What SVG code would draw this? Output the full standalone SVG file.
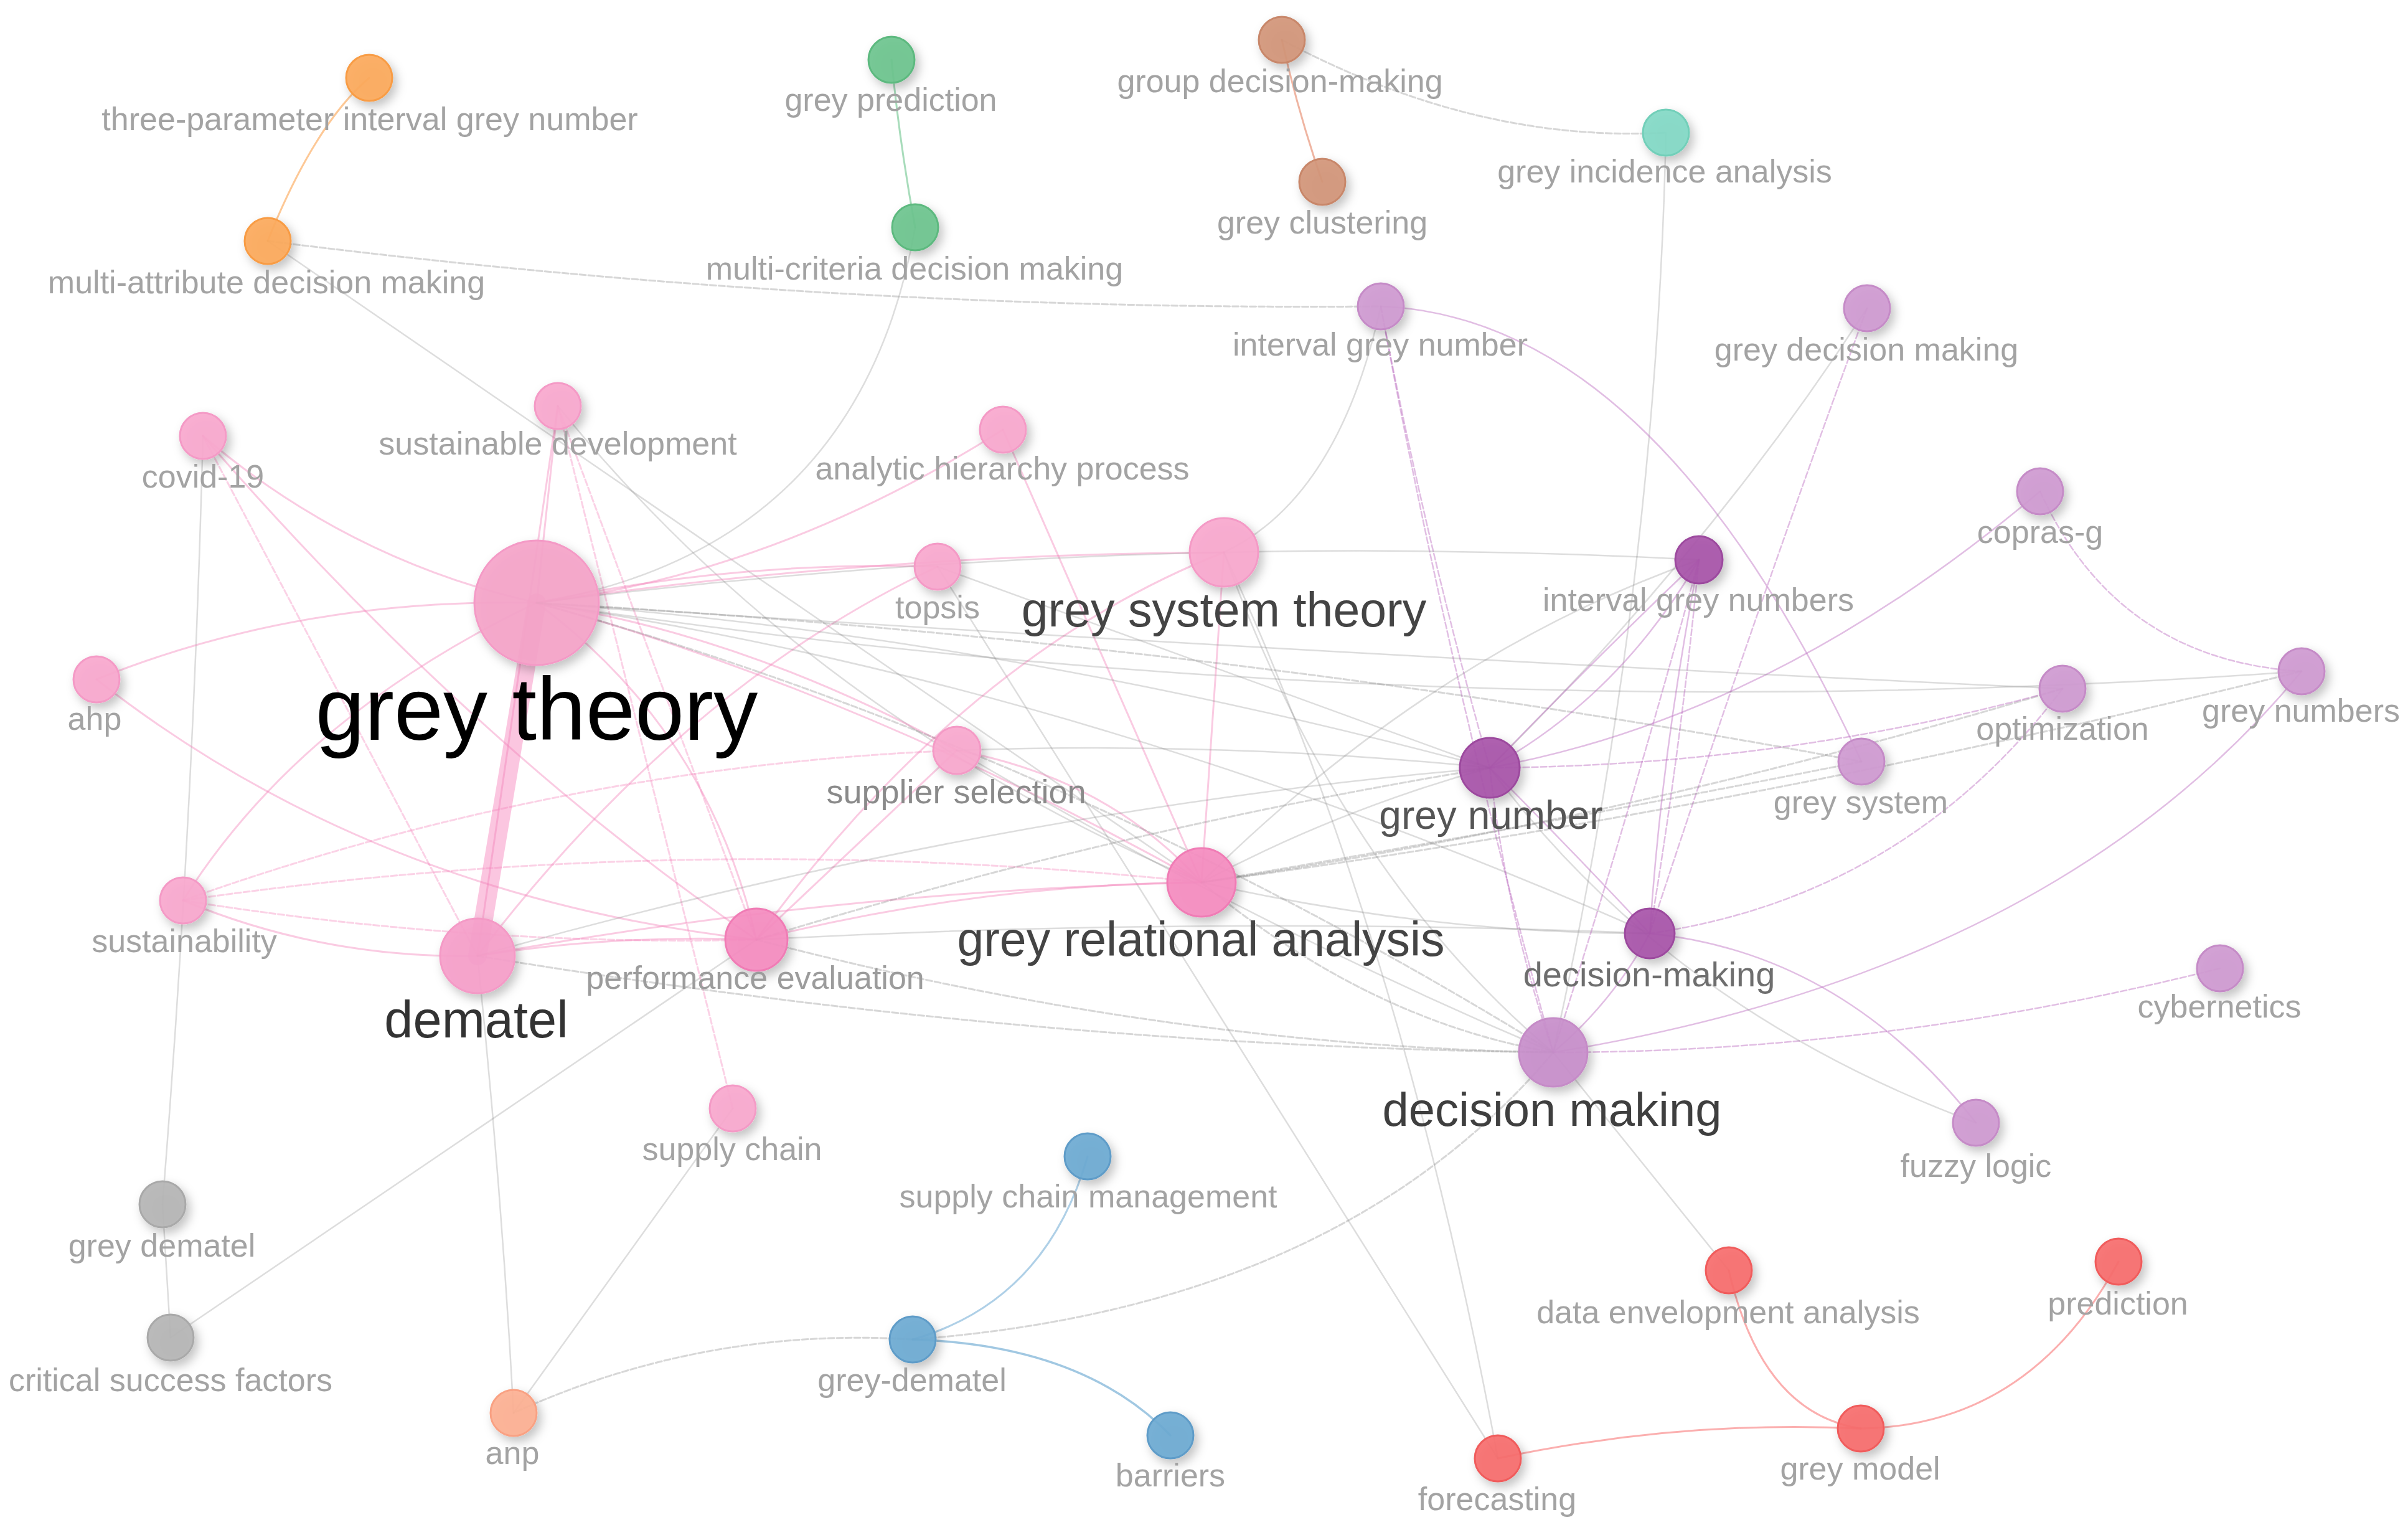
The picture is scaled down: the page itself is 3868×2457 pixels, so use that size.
<svg xmlns="http://www.w3.org/2000/svg" width="3868" height="2457" viewBox="0 0 3868 2457">
<style>
.e{fill:none;stroke-linecap:round}
.pk{stroke:#f37db7;stroke-opacity:.4;stroke-width:3}
.pkd{stroke:#f37db7;stroke-opacity:.35;stroke-width:3;stroke-dasharray:10 4}
.gy{stroke:#7a7a7a;stroke-opacity:.26;stroke-width:2.5}
.gyd{stroke:#7a7a7a;stroke-opacity:.3;stroke-width:3;stroke-dasharray:10 4}
.pu{stroke:#bd6fc0;stroke-opacity:.45;stroke-width:2.5}
.pud{stroke:#bd6fc0;stroke-opacity:.45;stroke-width:2.5;stroke-dasharray:10 4}
.n circle{filter:url(#sh);stroke-width:3;fill-opacity:.92}
.n text{font-family:"Liberation Sans",Arial,sans-serif;text-anchor:middle;font-size:52px;fill:#a3a3a3}
.or{fill:#fca95c;stroke:#f89c45}
.gr{fill:#6ec48e;stroke:#5db97f}
.br{fill:#d3967a;stroke:#c8876a}
.te{fill:#82d9c5;stroke:#72cfb9}
.pl{fill:#f8a8ce;stroke:#f49ac6}
.ps{fill:#f58cc0;stroke:#f07bb5}
.ul{fill:#cf9ad1;stroke:#c58bc7}
.ud{fill:#a854a9;stroke:#9c4a9e}
.gg{fill:#b5b5b5;stroke:#a9a9a9}
.sa{fill:#fdb093;stroke:#f9a183}
.bl{fill:#6eaad3;stroke:#5e9cc8}
.rd{fill:#f76d6d;stroke:#f05c5c}
</style>
<defs>
<filter id="sh" x="-50%" y="-50%" width="200%" height="200%">
<feDropShadow dx="6" dy="8" stdDeviation="8" flood-color="#000" flood-opacity="0.25"/>
</filter>
</defs>
<rect width="3868" height="2457" fill="#fff"/>
<g id="connectors">
<path class="e" stroke="#fcb06a" stroke-opacity=".7" stroke-width="3" d="M593,125 Q505,200 430,387"/>
<path class="e" stroke="#6ec48e" stroke-opacity=".6" stroke-width="3" d="M1432,96 Q1445,230 1470,365"/>
<path class="e" stroke="#e8957a" stroke-opacity=".7" stroke-width="3" d="M2059,64 Q2085,180 2124,292"/>
<path class="e gyd" d="M2059,64 Q2370,230 2676,213"/>
<path class="e gy" d="M2676,213 Q2660,950 2495,1690"/>
<path class="e gyd" d="M430,387 Q1324,500 2218,492"/>
<path class="e gy" d="M430,387 Q1150,880 1930,1417"/>
<path class="e gy" d="M1470,365 Q1380,880 862,968"/>
<path class="e pu" d="M2218,492 Q2660,510 2990,1223"/>
<path class="e pud" d="M2218,492 Q2290,870 2393,1233"/>
<path class="e pud" d="M2218,492 Q2330,1100 2495,1690"/>
<path class="e gy" d="M2218,492 Q2150,800 1966,887"/>
<path class="e gy" d="M2999,495 Q2750,880 2393,1233"/>
<path class="e pud" d="M2999,495 Q2820,980 2650,1499"/>
<path class="e pu" d="M3277,789 Q2850,1150 2393,1233"/>
<path class="e pud" d="M3277,789 Q3400,1060 3697,1078"/>
<path class="e gy" d="M862,968 Q2280,1180 3697,1078"/>
<path class="e gyd" d="M3697,1078 Q2800,1300 1930,1417"/>
<path class="e gyd" d="M3313,1106 Q2600,1320 1930,1417"/>
<path class="e pu" d="M3697,1078 Q3300,1560 2495,1690"/>
<path class="e pud" d="M3313,1106 Q3060,1440 2650,1499"/>
<path class="e pud" d="M3313,1106 Q2870,1230 2393,1233"/>
<path class="e gyd" d="M2990,1223 Q2450,1330 1930,1417"/>
<path class="e pud" d="M3566,1555 Q3030,1690 2495,1690"/>
<path class="e gy" d="M2393,1233 Q2680,1620 3174,1803"/>
<path class="e pu" d="M2650,1499 Q2960,1530 3174,1803"/>
<path class="e gy" d="M2777,2040 L2495,1690"/>
<path class="e" stroke="#f76d6d" stroke-opacity=".55" stroke-width="3" d="M2777,2040 Q2830,2270 2989,2294"/>
<path class="e" stroke="#f76d6d" stroke-opacity=".55" stroke-width="3" d="M3403,2026 Q3260,2290 2989,2294"/>
<path class="e" stroke="#f76d6d" stroke-opacity=".55" stroke-width="3" d="M2406,2342 Q2700,2280 2989,2294"/>
<path class="e" stroke="#6eaad3" stroke-opacity=".55" stroke-width="3" d="M1466,2151 Q1680,2090 1747,1857"/>
<path class="e" stroke="#6eaad3" stroke-opacity=".65" stroke-width="3.5" d="M1466,2151 Q1740,2160 1880,2305"/>
<path class="e gyd" d="M1466,2151 Q1130,2130 825,2269"/>
<path class="e gyd" d="M1466,2151 Q2150,2100 2495,1690"/>
<path class="e gy" d="M825,2269 Q805,1900 767,1535"/>
<path class="e gy" d="M825,2269 L1177,1780"/>
<path class="e gy" d="M274,2148 L261,1934"/>
<path class="e gy" d="M274,2148 L1215,1509"/>
<path class="e gy" d="M261,1934 Q310,1320 326,700"/>
<path class="e pkd" d="M1177,1780 L896,652"/>
<path class="e gy" d="M2406,2342 Q2250,1500 1966,887"/>
<path class="e gy" d="M2406,2342 L1506,910"/>
<path class="e" stroke="#fabcdb" stroke-opacity=".85" stroke-width="30" d="M862,968 L767,1535"/>
<path class="e pk" d="M155,1091 Q480,960 862,968"/>
<path class="e pk" d="M155,1091 Q600,1440 1215,1509"/>
<path class="e pk" d="M326,700 Q560,900 862,968"/>
<path class="e pkd" d="M326,700 L767,1535"/>
<path class="e pk" d="M326,700 Q760,1200 1215,1509"/>
<path class="e pk" d="M896,652 L862,968"/>
<path class="e pk" d="M896,652 L767,1535"/>
<path class="e pkd" d="M896,652 L1215,1509"/>
<path class="e gy" d="M896,652 Q1300,1150 1930,1417"/>
<path class="e pk" d="M1611,690 Q1250,920 862,968"/>
<path class="e pk" d="M1611,690 L1930,1417"/>
<path class="e pk" d="M862,968 Q1180,900 1506,910"/>
<path class="e pk" d="M862,968 Q1400,890 1966,887"/>
<path class="e pk" stroke-width="5" d="M862,968 Q1200,1020 1537,1205"/>
<path class="e pk" stroke-width="4" d="M862,968 Q1380,1110 1930,1417"/>
<path class="e pk" d="M862,968 Q1138,1172 1215,1509"/>
<path class="e pk" d="M294,1446 Q480,1150 862,968"/>
<path class="e pk" d="M294,1446 Q520,1540 767,1535"/>
<path class="e pkd" d="M294,1446 Q760,1520 1215,1509"/>
<path class="e pkd" d="M294,1446 Q1100,1330 1930,1417"/>
<path class="e pkd" d="M294,1446 Q900,1230 1537,1205"/>
<path class="e pk" stroke-width="4" d="M767,1535 Q990,1500 1215,1509"/>
<path class="e pk" d="M767,1535 Q1350,1430 1930,1417"/>
<path class="e pk" stroke-width="4" d="M1215,1509 Q1570,1420 1930,1417"/>
<path class="e pk" d="M1215,1509 L1537,1205"/>
<path class="e pk" d="M1966,887 L1930,1417"/>
<path class="e pk" d="M1966,887 Q1550,1050 1215,1509"/>
<path class="e pk" d="M1537,1205 Q1780,1250 1930,1417"/>
<path class="e pk" d="M1506,910 Q1100,1100 767,1535"/>
<path class="e gy" d="M862,968 Q1600,1020 2393,1233"/>
<path class="e gy" d="M862,968 Q1750,1100 2650,1499"/>
<path class="e gyd" d="M862,968 Q1700,1200 2495,1690"/>
<path class="e gy" d="M862,968 Q1800,850 2729,899"/>
<path class="e gyd" d="M862,968 Q1950,1030 2990,1223"/>
<path class="e gy" d="M862,968 Q2100,1050 3313,1106"/>
<path class="e gy" d="M1506,910 L2393,1233"/>
<path class="e gy" d="M1966,887 Q2150,1400 2495,1690"/>
<path class="e gy" d="M1537,1205 Q1970,1190 2393,1233"/>
<path class="e gy" d="M1537,1205 Q2000,1480 2495,1690"/>
<path class="e gy" d="M767,1535 Q1600,1300 2393,1233"/>
<path class="e gyd" d="M767,1535 Q1650,1680 2495,1690"/>
<path class="e gyd" d="M1215,1509 Q1800,1330 2393,1233"/>
<path class="e gyd" d="M1215,1509 Q1870,1680 2495,1690"/>
<path class="e gy" d="M1215,1509 Q1950,1470 2650,1499"/>
<path class="e gy" d="M1930,1417 Q2150,1300 2393,1233"/>
<path class="e gyd" d="M1930,1417 Q2200,1640 2495,1690"/>
<path class="e gy" d="M1930,1417 Q2300,1050 2729,899"/>
<path class="e gy" d="M1930,1417 Q2300,1500 2650,1499"/>
<path class="e pu" d="M2393,1233 Q2600,1120 2729,899"/>
<path class="e pu" d="M2393,1233 Q2560,1060 2729,899"/>
<path class="e pud" d="M2729,899 Q2700,1200 2650,1499"/>
<path class="e pu" d="M2729,899 Q2670,1200 2650,1499"/>
<path class="e pud" d="M2729,899 Q2620,1300 2495,1690"/>
<path class="e pu" d="M2393,1233 Q2520,1360 2650,1499"/>
<path class="e pud" d="M2393,1233 Q2420,1470 2495,1690"/>
<path class="e pu" d="M2650,1499 Q2590,1610 2495,1690"/>
</g>
<g id="node-three-parameter" class="n"><circle class="or" cx="593" cy="125" r="37"/><text x="594" y="209">three-parameter interval grey number</text></g>
<g id="node-multi-attribute" class="n"><circle class="or" cx="430" cy="387" r="37"/><text x="428" y="471">multi-attribute decision making</text></g>
<g id="node-grey-prediction" class="n"><circle class="gr" cx="1432" cy="96" r="37"/><text x="1431" y="178">grey prediction</text></g>
<g id="node-multi-criteria" class="n"><circle class="gr" cx="1470" cy="365" r="37"/><text x="1469" y="449">multi-criteria decision making</text></g>
<g id="node-group-decision" class="n"><circle class="br" cx="2059" cy="64" r="37"/><text x="2056" y="148">group decision-making</text></g>
<g id="node-grey-clustering" class="n"><circle class="br" cx="2124" cy="292" r="37"/><text x="2124" y="375">grey clustering</text></g>
<g id="node-grey-incidence" class="n"><circle class="te" cx="2676" cy="213" r="37"/><text x="2674" y="293">grey incidence analysis</text></g>
<g id="node-interval-grey-number" class="n"><circle class="ul" cx="2218" cy="492" r="37"/><text x="2217" y="571">interval grey number</text></g>
<g id="node-grey-decision-making" class="n"><circle class="ul" cx="2999" cy="495" r="37"/><text x="2998" y="579">grey decision making</text></g>
<g id="node-covid" class="n"><circle class="pl" cx="326" cy="700" r="37"/><text x="326" y="783">covid-19</text></g>
<g id="node-sustainable-development" class="n"><circle class="pl" cx="896" cy="652" r="37"/><text x="896" y="730">sustainable development</text></g>
<g id="node-analytic-hierarchy" class="n"><circle class="pl" cx="1611" cy="690" r="37"/><text x="1610" y="770">analytic hierarchy process</text></g>
<g id="node-copras" class="n"><circle class="ul" cx="3277" cy="789" r="37"/><text x="3277" y="872">copras-g</text></g>
<g id="node-topsis" class="n"><circle class="pl" cx="1506" cy="910" r="37"/><text x="1506" y="993">topsis</text></g>
<g id="node-grey-system-theory" class="n"><circle class="pl" cx="1966" cy="887" r="55"/><text x="1966" y="1006" style="font-size:77px;fill:#444">grey system theory</text></g>
<g id="node-interval-grey-numbers" class="n"><circle class="ud" cx="2729" cy="899" r="38"/><text x="2728" y="981">interval grey numbers</text></g>
<g id="node-ahp" class="n"><circle class="pl" cx="155" cy="1091" r="37"/><text x="152" y="1172">ahp</text></g>
<g id="node-grey-numbers" class="n"><circle class="ul" cx="3697" cy="1078" r="37"/><text x="3696" y="1159">grey numbers</text></g>
<g id="node-optimization" class="n"><circle class="ul" cx="3313" cy="1106" r="37"/><text x="3313" y="1188">optimization</text></g>
<g id="node-grey-system" class="n"><circle class="ul" cx="2990" cy="1223" r="37"/><text x="2989" y="1306">grey system</text></g>
<g id="node-supplier-selection" class="n"><circle class="pl" cx="1537" cy="1205" r="38"/><text x="1536" y="1290" style="font-size:54px;fill:#8a8a8a">supplier selection</text></g>
<g id="node-sustainability" class="n"><circle class="pl" cx="294" cy="1446" r="37"/><text x="296" y="1529">sustainability</text></g>
<g id="node-performance-evaluation" class="n"><circle class="ps" cx="1215" cy="1509" r="50"/><text x="1213" y="1588" style="fill:#9c9c9c">performance evaluation</text></g>
<g id="node-grey-relational-analysis" class="n"><circle class="ps" cx="1930" cy="1417" r="55"/><text x="1929" y="1535" style="font-size:77px;fill:#444">grey relational analysis</text></g>
<g id="node-grey-number" class="n"><circle class="ud" cx="2393" cy="1233" r="48"/><text x="2395" y="1331" style="font-size:64px;fill:#555">grey number</text></g>
<g id="node-decision-making-h" class="n"><circle class="ud" cx="2650" cy="1499" r="40"/><text x="2649" y="1584" style="font-size:56px;fill:#6e6e6e">decision-making</text></g>
<g id="node-cybernetics" class="n"><circle class="ul" cx="3566" cy="1555" r="37"/><text x="3565" y="1634">cybernetics</text></g>
<g id="node-decision-making" class="n"><circle class="ul" cx="2495" cy="1690" r="55" style="fill:#c88ecb"/><text x="2493" y="1808" style="font-size:76px;fill:#3f3f3f">decision making</text></g>
<g id="node-supply-chain" class="n"><circle class="pl" cx="1177" cy="1780" r="37"/><text x="1176" y="1863">supply chain</text></g>
<g id="node-supply-chain-management" class="n"><circle class="bl" cx="1747" cy="1857" r="37"/><text x="1748" y="1939">supply chain management</text></g>
<g id="node-fuzzy-logic" class="n"><circle class="ul" cx="3174" cy="1803" r="37"/><text x="3174" y="1890">fuzzy logic</text></g>
<g id="node-grey-dematel" class="n"><circle class="gg" cx="261" cy="1934" r="37"/><text x="260" y="2018">grey dematel</text></g>
<g id="node-dea" class="n"><circle class="rd" cx="2777" cy="2040" r="37"/><text x="2776" y="2125">data envelopment analysis</text></g>
<g id="node-prediction" class="n"><circle class="rd" cx="3403" cy="2026" r="37"/><text x="3402" y="2111">prediction</text></g>
<g id="node-critical-success-factors" class="n"><circle class="gg" cx="274" cy="2148" r="37"/><text x="274" y="2234">critical success factors</text></g>
<g id="node-grey-dematel-h" class="n"><circle class="bl" cx="1466" cy="2151" r="37"/><text x="1465" y="2234">grey-dematel</text></g>
<g id="node-anp" class="n"><circle class="sa" cx="825" cy="2269" r="37"/><text x="823" y="2351">anp</text></g>
<g id="node-barriers" class="n"><circle class="bl" cx="1880" cy="2305" r="37"/><text x="1880" y="2387">barriers</text></g>
<g id="node-forecasting" class="n"><circle class="rd" cx="2406" cy="2342" r="37"/><text x="2405" y="2425">forecasting</text></g>
<g id="node-grey-model" class="n"><circle class="rd" cx="2989" cy="2294" r="37"/><text x="2988" y="2376">grey model</text></g>
<g id="node-dematel" class="n"><circle class="pl" cx="767" cy="1535" r="60" style="fill:#f6a0ca"/><text x="765" y="1666" style="font-size:83px;fill:#333">dematel</text></g>
<g id="node-grey-theory" class="n"><circle class="pl" cx="862" cy="968" r="100" style="fill:#f5a4c9"/><text x="862" y="1188" style="font-size:142px;fill:#000">grey theory</text></g>
</svg>
